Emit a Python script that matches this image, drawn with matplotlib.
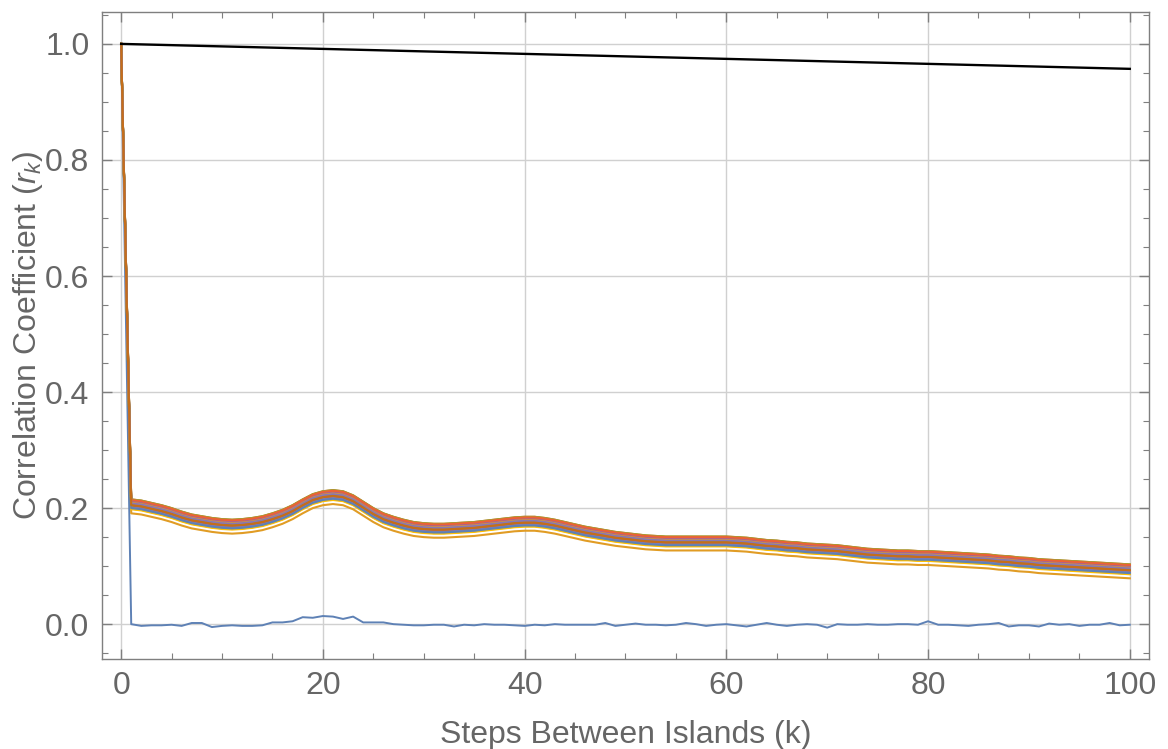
import numpy as np
import matplotlib.pyplot as plt
from matplotlib.ticker import MultipleLocator

plt.rcParams["font.family"] = ["Liberation Sans", "DejaVu Sans"]
plt.rcParams["mathtext.fontset"] = "custom"
plt.rcParams["mathtext.rm"] = "Liberation Sans"
plt.rcParams["mathtext.it"] = "Liberation Sans:italic"

# Lag values
steps = np.arange(0, 101)

# Uncorrelated reference run (drops to zero after the first step)
noise_run = [
    1.0, 0.000, -0.003, -0.002, -0.002, -0.001, -0.003, 0.002, 0.002, -0.005,
    -0.003, -0.002, -0.003, -0.003, -0.002, 0.003, 0.003, 0.005, 0.012, 0.011,
    0.014, 0.013, 0.009, 0.013, 0.003, 0.003, 0.003, 0.000, -0.001, -0.002,
    -0.002, -0.001, -0.001, -0.004, -0.001, -0.002, 0.000, -0.001, -0.001, -0.002,
    -0.003, -0.001, -0.002, 0.000, -0.001, -0.001, -0.001, -0.001, 0.002, -0.003,
    -0.001, 0.001, -0.001, -0.001, -0.002, -0.001, 0.002, 0.000, -0.003, -0.001,
    0.000, -0.002, -0.004, -0.001, 0.002, -0.001, -0.003, -0.001, 0.000, -0.001,
    -0.006, 0.000, -0.001, -0.001, 0.000, -0.001, -0.001, 0.000, 0.000, -0.001,
    0.005, -0.001, -0.001, -0.002, -0.003, -0.001, 0.000, 0.002, -0.004, -0.002,
    -0.002, -0.004, 0.001, -0.001, 0.000, -0.003, -0.001, -0.001, 0.002, -0.002,
    -0.001,
]

# Mean correlation of the island runs for k = 1..100
band_mean = [
    0.205, 0.203, 0.199, 0.195, 0.190, 0.184, 0.179, 0.176, 0.173, 0.171,
    0.170, 0.171, 0.173, 0.176, 0.181, 0.187, 0.195, 0.205, 0.214, 0.219,
    0.221, 0.219, 0.212, 0.201, 0.190, 0.181, 0.175, 0.170, 0.166, 0.164,
    0.163, 0.163, 0.164, 0.165, 0.166, 0.168, 0.170, 0.172, 0.174, 0.175,
    0.175, 0.173, 0.170, 0.166, 0.162, 0.158, 0.155, 0.152, 0.149, 0.147,
    0.145, 0.143, 0.142, 0.141, 0.141, 0.141, 0.141, 0.141, 0.141, 0.141,
    0.140, 0.139, 0.137, 0.135, 0.134, 0.132, 0.131, 0.129, 0.128, 0.127,
    0.126, 0.124, 0.122, 0.120, 0.119, 0.118, 0.117, 0.117, 0.116, 0.116,
    0.115, 0.114, 0.113, 0.112, 0.111, 0.110, 0.108, 0.107, 0.105, 0.104,
    0.102, 0.101, 0.100, 0.099, 0.098, 0.097, 0.096, 0.095, 0.094, 0.093,
]

# Offset of each island run from the mean
run_offsets = [
    -0.014, 0.009, 0.010, 0.004, 0.002, -0.002, 0.001, -0.001, -0.006, 0.006,
    -0.004, 0.008, 0.009, -0.003, 0.000, 0.005, -0.007, 0.006, 0.002, -0.005,
    0.004, 0.010, 0.009, 0.003, 0.000,
]

# Slowly decaying reference line
ref_steps = [0, 100]
ref_values = [1.0, 0.957]

palette = ["#5E81B5", "#E19C24", "#8FB032", "#EB6235", "#8778B3",
           "#C56E1A", "#5D9EC7", "#FFBF00", "#A5609D", "#929600"]

fig = plt.figure(figsize=(11.68, 7.49), dpi=100)
ax = fig.add_axes([0.0873, 0.1202, 0.8964, 0.8638])

ax.plot(ref_steps, ref_values, color="black", linewidth=1.7, zorder=3)
ax.plot(steps, noise_run, color=palette[0], linewidth=1.4, zorder=2)

mean = np.array(band_mean)
for i, off in enumerate(run_offsets, start=1):
    run = np.concatenate([[1.0], mean + off])
    ax.plot(steps, run, color=palette[i % len(palette)], linewidth=1.5, zorder=2)

ax.set_xlim(-1.9, 101.9)
ax.set_ylim(-0.06, 1.055)

ax.xaxis.set_major_locator(MultipleLocator(20))
ax.xaxis.set_minor_locator(MultipleLocator(5))
ax.yaxis.set_major_locator(MultipleLocator(0.2))
ax.yaxis.set_minor_locator(MultipleLocator(0.05))
ax.yaxis.set_major_formatter(plt.FuncFormatter(lambda v, p: f"{v:.1f}"))

ax.grid(which="major", color="#d0d0d0", linewidth=1.0)
ax.set_axisbelow(True)

for sp in ax.spines.values():
    sp.set_color("#7f7f7f")
    sp.set_linewidth(1.0)

ax.tick_params(which="both", direction="in", top=True, right=True,
               color="#7f7f7f", labelcolor="#666666", labelsize=23, pad=9)
ax.tick_params(which="major", length=7, width=1.0)
ax.tick_params(which="minor", length=4, width=0.8)

ax.set_xlabel("Steps Between Islands (k)", fontsize=23, color="#666666", labelpad=13)
ax.set_ylabel("Correlation Coefficient ($r_k$)", fontsize=23, color="#666666", labelpad=0)

fig.savefig("out.png", dpi=100)
